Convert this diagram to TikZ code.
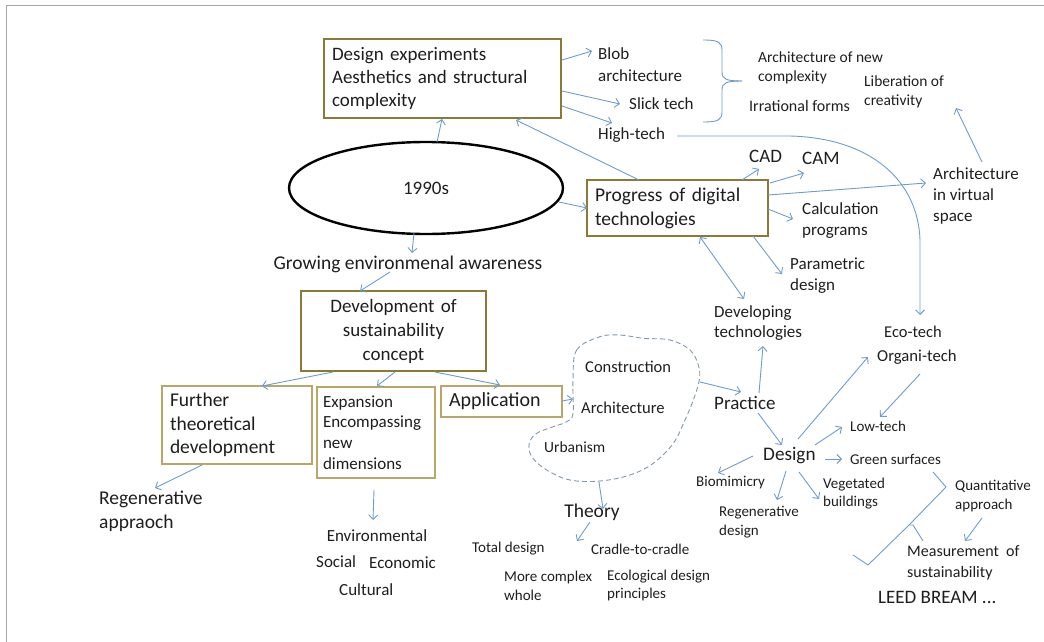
\documentclass[tikz,border=0pt]{standalone}
\usepackage{fontspec}
\setmainfont{Carlito}
\usetikzlibrary{arrows.meta,calc,shapes.geometric}
\definecolor{arrc}{HTML}{6E9CCB}
\definecolor{boxd}{HTML}{8A7A35}
\definecolor{boxl}{HTML}{B7A867}
\definecolor{cloudc}{HTML}{8597AD}
\definecolor{txt}{HTML}{1E1E1E}
\definecolor{framec}{HTML}{A6A6A6}
\newcommand\fs[2]{\fontsize{#1}{#2}\selectfont}
\begin{document}
\begin{tikzpicture}[x=1pt,y=-1pt,
  every node/.style={text=txt,inner sep=0pt},
  bigbox/.style={draw=boxd,line width=1.6pt,fill=white},
  smallbox/.style={draw=boxl,line width=1.2pt,fill=white},
  lab/.style={anchor=west,align=left},
  arr/.style={draw=arrc,line width=0.9pt,-{Straight Barb[length=4.5pt,width=9pt]}},
  darr/.style={draw=arrc,line width=0.9pt,{Straight Barb[length=4.5pt,width=9pt]}-{Straight Barb[length=4.5pt,width=9pt]}},
  brc/.style={draw=arrc,line width=0.9pt}]
\useasboundingbox (0,0) rectangle (1044,642);
\draw[framec,line width=1pt] (6,642) -- (6,6) -- (1044,6);

% main boxes
\node[bigbox,minimum width=237pt,minimum height=79pt,text width=221pt,inner xsep=8pt,align=left,font=\fs{19}{23.3}] (de) at (442.5,78.5) {Design experiments\\Aesthetics and structural\\complexity};
\node[ellipse,draw=black,line width=2.4pt,minimum width=274pt,minimum height=92pt,font=\fs{19}{23}] (e1990) at (426,188) {1990s};
\node[font=\fs{19.5}{23}] (grow) at (408,264) {Growing environmenal awareness};
\node[bigbox,minimum width=185pt,minimum height=80pt,text width=169pt,inner xsep=8pt,align=center,font=\fs{19}{24}] (dev) at (393.5,331) {Development of\\sustainability\\concept};
\node[smallbox,minimum width=150pt,minimum height=78pt,text width=134pt,inner xsep=8pt,align=left,font=\fs{19.5}{23.5}] (fur) at (237,425) {Further\\theoretical\\development};
\node[smallbox,minimum width=118pt,minimum height=91pt,text width=106pt,inner xsep=6pt,align=left,font=\fs{17}{20.7}] (exp) at (376,432.5) {Expansion\\Encompassing\\new\\dimensions};
\node[smallbox,minimum width=121pt,minimum height=31pt,text width=105pt,inner xsep=8pt,align=left,font=\fs{20}{24}] (app) at (501.5,401.5) {Application};
\node[bigbox,minimum width=181pt,minimum height=56pt,text width=165pt,inner xsep=8pt,align=left,font=\fs{19.5}{24}] (prog) at (677.5,208) {Progress of digital\\technologies};

% left texts
\node[lab,font=\fs{19.5}{24}] (regapp) at (99,511) {Regenerative\\appraoch};
\node[font=\fs{17}{20}] (envt) at (377,536) {Environmental};
\node[lab,font=\fs{17}{20}] (social) at (316,562) {Social};
\node[lab,font=\fs{17}{20}] (econ) at (369,563) {Economic};
\node[lab,font=\fs{17}{20}] (cult) at (339,590) {Cultural};

% top right texts
\node[lab,font=\fs{17}{22}] (blobarch) at (598,65) {Blob\\architecture};
\node[lab,font=\fs{17}{20}] (slick) at (629,104) {Slick tech};
\node[lab,font=\fs{17}{20}] (high) at (598,135) {High-tech};
\node[lab,font=\fs{15.5}{19}] (anc) at (758,67.5) {Architecture of new\\complexity};
\node[lab,font=\fs{16}{19}] (irr) at (749,106) {Irrational forms};
\node[lab,font=\fs{15.5}{19}] (lib) at (864,91.5) {Liberation of\\creativity};
\node[lab,font=\fs{19}{23}] (cad) at (749,156) {CAD};
\node[lab,font=\fs{19}{23}] (cam) at (802,158) {CAM};
\node[lab,font=\fs{17}{21}] (avs) at (933,196) {Architecture\\in virtual\\space};
\node[lab,font=\fs{17}{21}] (calcp) at (802,220.5) {Calculation\\programs};
\node[lab,font=\fs{17}{21}] (param) at (790,275.5) {Parametric\\design};
\node[lab,font=\fs{17}{20}] (devtech) at (714,323) {Developing\\technologies};
\node[lab,font=\fs{16.5}{20}] (eco) at (884,332) {Eco-tech};
\node[lab,font=\fs{16.7}{20}] (organi) at (877,357) {Organi-tech};

% cloud
\draw[cloudc,dash pattern=on 5pt off 3pt,line width=0.9pt] plot[smooth cycle,tension=0.6] coordinates {(573,380) (576.7,350) (600,336.7) (620,335) (643.3,338.3) (670,340) (690,350) (698.3,365) (699.3,380) (693.3,400) (685,420) (673.3,443.3) (653.3,463.3) (630,475) (600,481) (570,480) (546.7,470) (531.7,456.7) (529.3,443.3) (536.7,433.3) (553.3,426.7) (566.7,421.7) (573,413.3)};
\coordinate (cloud) at (615,410);
\node[lab,font=\fs{16.5}{20}] (constr) at (585,367) {Construction};
\node[lab,font=\fs{16.6}{20}] (archi) at (581,408) {Architecture};
\node[lab,font=\fs{15.5}{20}] (urban) at (544,447) {Urbanism};

\node[lab,font=\fs{19}{23}] (practice) at (714,403) {Practice};
\node[font=\fs{19.5}{23}] (theory) at (592,512) {Theory};
\node[lab,font=\fs{15}{19}] (total) at (472,549) {Total design};
\node[lab,font=\fs{15}{19}] (cradle) at (591,549) {Cradle-to-cradle};
\node[lab,font=\fs{15}{19}] (morecx) at (504,585.5) {More complex\\whole};
\node[lab,font=\fs{15}{18}] (ecol) at (607,585) {Ecological design\\principles};

\node[lab,font=\fs{19.2}{23}] (design) at (763,456) {Design};
\node[lab,font=\fs{15}{19}] (lowtech) at (850,426) {Low-tech};
\node[lab,font=\fs{15}{19}] (green) at (850,459) {Green surfaces};
\node[lab,font=\fs{15}{19}] (biom) at (696,483) {Biomimicry};
\node[lab,font=\fs{15}{19}] (regdes) at (719,522.5) {Regenerative\\design};
\node[lab,font=\fs{15}{18}] (veget) at (823,494) {Vegetated\\buildings};
\node[lab,font=\fs{15}{19}] (quant) at (955,496.5) {Quantitative\\approach};
\node[lab,font=\fs{16}{21}] (meas) at (907,562.5) {Measurement~ of\\sustainability};
\node[lab,font=\fs{19}{23}] (leed) at (878,597) {LEED BREAM ...};

% braces
\draw[brc] (703,40) .. controls (718,40) and (722,42) .. (722,50) -- (722,72) .. controls (722,79) and (726,81) .. (742,81);
\draw[brc] (742,81) .. controls (726,81) and (722,83) .. (722,90) -- (722,112) .. controls (722,120) and (718,122) .. (703,122);
\draw[brc] (933,472) -- (946,487) -- (909,525) -- (868,565) -- (853,555);
\draw[brc] (909,525) -- (913,525) -- (923,541);

% arrows
\draw[arr] ($(e1990)+(11,-46)$) -- ($(de)+(-0.5,40.5)$);
\draw[arr] ($(e1990)+(-12,45)$) -- ($(grow)+(4,-11)$);
\draw[arr] ($(grow)+(-18,8)$) -- ($(dev)+(-33.5,-40)$);
\draw[arr] ($(dev)+(-60.5,41)$) -- ($(fur)+(25,-39)$);
\draw[arr] ($(dev)+(1.5,41)$) -- ($(exp)+(1,-46.5)$);
\draw[arr] ($(dev)+(41.5,41)$) -- ($(app)+(-1.5,-16.5)$);
\draw[arr] ($(fur)+(-35,40)$) -- ($(regapp.west)+(56,-23)$);
\draw[arr] ($(exp)+(-2,57.5)$) -- ($(envt)+(-4,-16)$);
\draw[arr] ($(e1990)+(133,14)$) -- ($(prog)+(-90.5,0)$);
\draw[arr] ($(prog)+(-38.5,-28)$) -- ($(de)+(73.5,41.5)$);
\draw[arr] ($(de)+(119.5,-18.5)$) -- ($(blobarch.west)+(-6,-14)$);
\draw[arr] ($(de)+(119.5,12.5)$) -- ($(slick.west)+(-9,0)$);
\draw[arr] ($(de)+(119.5,27.5)$) -- ($(high.west)+(14,-12)$);
\draw[arr] ($(high.west)+(79,1)$) -- (790,136) .. controls (870,138) and (918,180) .. (920,240) -- ($(eco.west)+(36,-17)$);
\draw[arr] ($(prog)+(64.5,-28)$) -- ($(cad.west)+(10,13)$);
\draw[arr] ($(prog)+(92.5,-25)$) -- ($(cam.west)+(2,15)$);
\draw[arr] ($(prog)+(90.5,-13)$) -- ($(avs.west)+(-7,-13)$);
\draw[arr] ($(avs.west)+(49,-34)$) -- ($(lib.west)+(92,16.5)$);
\draw[arr] ($(prog)+(90.5,1)$) -- ($(calcp.west)+(-9,-1.5)$);
\draw[arr] ($(prog)+(75.5,28)$) -- ($(param.west)+(-8,-1.5)$);
\draw[darr] ($(prog)+(22.5,29)$) -- ($(devtech.west)+(30,-24)$);
\draw[arr] ($(practice.west)+(45,-10)$) -- ($(devtech.west)+(49,23)$);
\draw[arr] ($(app)+(60.5,-0.5)$) -- ($(cloud)+(-42,-11)$);
\draw[arr] ($(cloud)+(85,-28)$) -- ($(practice.west)+(27,-11)$);
\draw[arr] ($(cloud)+(-16,72)$) -- ($(theory)+(11,-3)$);
\draw[arr] ($(theory)+(-2,10)$) -- ($(theory)+(-15,29)$);
\draw[arr] ($(practice.west)+(44,10)$) -- ($(design.west)+(19,-11)$);
\draw[arr] ($(design.west)+(35,-17)$) -- ($(organi.west)+(-9,0)$);
\draw[arr] ($(organi.west)+(43,17)$) -- ($(lowtech.west)+(30,-9)$);
\draw[arr] ($(design.west)+(52,-11)$) -- ($(lowtech.west)+(-8,1)$);
\draw[arr] ($(design.west)+(62,3)$) -- ($(green.west)+(-8,0)$);
\draw[arr] ($(design.west)+(-10,0)$) -- ($(biom.west)+(22,-10)$);
\draw[arr] ($(design.west)+(23,15)$) -- ($(regdes.west)+(58,-22.5)$);
\draw[arr] ($(design.west)+(36,16)$) -- ($(veget.west)+(-4,5)$);
\draw[arr] ($(quant.west)+(27,21.5)$) -- ($(meas.west)+(58,-21.5)$);
\end{tikzpicture}
\end{document}
